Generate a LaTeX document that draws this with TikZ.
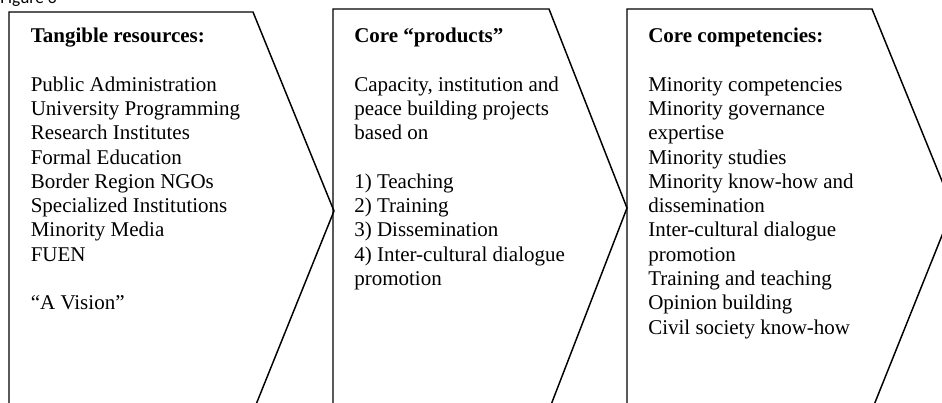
\documentclass[tikz,border=0pt]{standalone}
\usepackage{fontspec}
\setmainfont{Liberation Serif}
\newfontfamily\figfont{Carlito}
\begin{document}
\begin{tikzpicture}[x=0.75pt,y=-0.75pt,
  chev/.style={draw=black,line width=1.1pt,line join=miter},
  txt/.style={anchor=base west,inner sep=0pt,font=\fontsize{15.75pt}{18.2pt}\selectfont},
  hd/.style={anchor=base west,inner sep=0pt,font=\fontsize{15.75pt}{18.2pt}\selectfont\bfseries}]
\useasboundingbox (0,0) rectangle (942,403);
\clip (0,0) rectangle (942,403);
\node[anchor=base west,inner sep=0pt,font=\figfont\fontsize{13pt}{15pt}\selectfont] (fig) at (0,4) {Figure 3};
% chevrons
\draw[chev] (9,412) -- (9,12) -- (253,12) -- (334,211) -- (253,412);
\draw[chev] (333,410) -- (333,9) -- (549,9) -- (627,208) -- (549,410);
\draw[chev] (627,410) -- (627,9) -- (872,9) -- (953,208) -- (872,410);
% box 1
\node[hd] (rh) at (30.5,42.5) {Tangible resources:};
\foreach \k/\t in {2/Public Administration,3/University Programming,4/Research Institutes,5/Formal Education,6/Border Region NGOs,7/Specialized Institutions,8/Minority Media,9/FUEN,11/“A Vision”}
  \node[txt] (r\k) at (30.5,42.5+24.3*\k) {\t};
% box 2
\node[hd] (ph) at (354,42.5) {Core “products”};
\foreach \k/\t in {2/{Capacity, institution and},3/peace building projects,4/based on,6/1) Teaching,7/2) Training,8/3) Dissemination,9/4) Inter-cultural dialogue,10/promotion}
  \node[txt] (p\k) at (354,42.5+24.3*\k) {\t};
% box 3
\node[hd] (ch) at (648,42.5) {Core competencies:};
\foreach \k/\t in {2/Minority competencies,3/Minority governance,4/expertise,5/Minority studies,6/Minority know-how and,7/dissemination,8/Inter-cultural dialogue,9/promotion,10/Training and teaching,11/Opinion building,12/Civil society know-how}
  \node[txt] (c\k) at (648,42.5+24.3*\k) {\t};
\end{tikzpicture}
\end{document}
